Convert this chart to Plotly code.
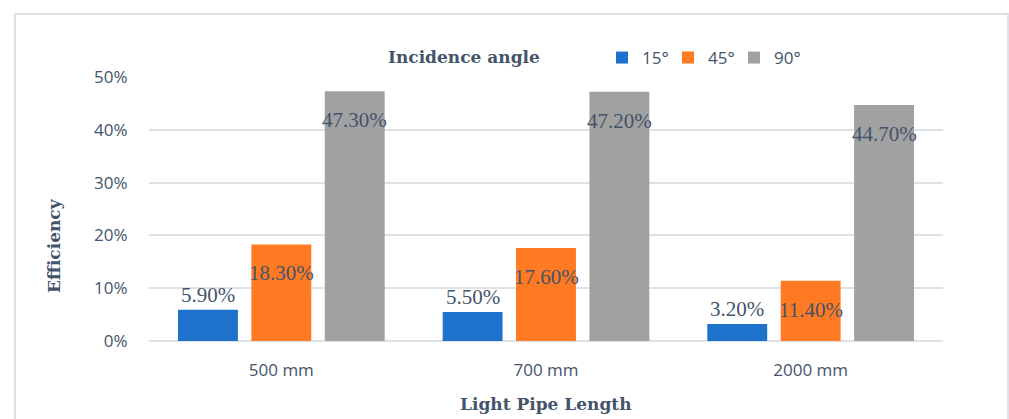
import plotly.graph_objects as go

# Light pipe efficiency by pipe length and incidence angle
lengths = ["500 mm", "700 mm", "2000 mm"]
angles = ["15°", "45°", "90°"]
eff_15 = [0.059, 0.055, 0.032]
eff_45 = [0.183, 0.176, 0.114]
eff_90 = [0.473, 0.472, 0.447]
y_ticks = [0, 0.1, 0.2, 0.3, 0.4, 0.5]

series = [eff_15, eff_45, eff_90]
colors = ["#1f72cb", "#ff7a22", "#a1a1a1"]
text_color = "#44546A"
grid_color = "#dde2e9"

W, H = 1009, 419
M = dict(l=149, r=66, t=77, b=78)
BARGAP = 0.168
BARGROUPGAP = 0.184

x_idx = list(range(len(lengths)))

fig = go.Figure()
for name, vals, col in zip(angles, series, colors):
    fig.add_trace(go.Bar(
        x=x_idx, y=vals, name=name,
        marker=dict(color=col, line=dict(width=0)),
        hoverinfo="skip",
    ))

# value labels: above the short 15° bars, just inside the top of the others
slot = (1 - BARGAP) / len(series)
annotations = []
for j, vals in enumerate(series):
    for i, v in enumerate(vals):
        annotations.append(dict(
            x=i + (j - 1) * slot, y=v, xref="x", yref="y",
            text=f"{v * 100:.2f}%", showarrow=False,
            xanchor="center", yanchor="middle",
            yshift=15 if j == 0 else -29,
            font=dict(family="Liberation Serif", size=21, color=text_color),
        ))

pw = W - M["l"] - M["r"]
ph = H - M["t"] - M["b"]


def px_x(p):
    return (p - M["l"]) / pw


def px_y(p):
    return (H - M["b"] - p) / ph


title_font = dict(family="DejaVu Serif", size=17, color=text_color)
annotations += [
    dict(x=px_x(464), y=px_y(57), xref="paper", yref="paper",
         xanchor="center", yanchor="middle",
         text="<b>Incidence angle</b>", showarrow=False, font=title_font),
    dict(x=px_x(54), y=px_y(246), xref="paper", yref="paper",
         xanchor="center", yanchor="middle",
         text="<b>Efficiency</b>", showarrow=False, textangle=-90, font=title_font),
    dict(x=px_x(546), y=px_y(404), xref="paper", yref="paper",
         xanchor="center", yanchor="middle",
         text="<b>Light Pipe Length</b>", showarrow=False, font=title_font),
]

# chart-area frame
shapes = [dict(
    type="rect", xref="paper", yref="paper",
    x0=px_x(15), x1=px_x(1008), y0=px_y(440), y1=px_y(14),
    line=dict(color=grid_color, width=2), fillcolor="rgba(0,0,0,0)", layer="below",
)]

tick_font = dict(family="Open Sans", size=17, color=text_color)

fig.update_layout(
    width=W, height=H, margin=dict(M, autoexpand=False),
    paper_bgcolor="white", plot_bgcolor="white",
    barmode="group", bargap=BARGAP, bargroupgap=BARGROUPGAP,
    showlegend=True,
    legend=dict(
        orientation="h", xref="paper", yref="paper",
        x=px_x(602), y=px_y(40), xanchor="left", yanchor="top",
        entrywidth=21,
        font=tick_font, bgcolor="rgba(0,0,0,0)", itemclick=False,
    ),
    xaxis=dict(
        tickmode="array", tickvals=x_idx, ticktext=lengths,
        range=[-0.5, len(lengths) - 0.5],
        showgrid=False, zeroline=False, showline=False,
        ticks="outside", ticklen=14, tickcolor="rgba(0,0,0,0)",
        tickfont=tick_font,
    ),
    yaxis=dict(
        range=[0, 0.5], tickmode="array", tickvals=y_ticks, tickformat=".0%",
        showgrid=True, gridcolor=grid_color, gridwidth=1.5,
        zeroline=True, zerolinecolor=grid_color, zerolinewidth=1.5,
        showline=False,
        ticks="outside", ticklen=17, tickcolor="rgba(0,0,0,0)",
        tickfont=tick_font,
    ),
    annotations=annotations,
    shapes=shapes,
)

fig.write_html("out.html")
